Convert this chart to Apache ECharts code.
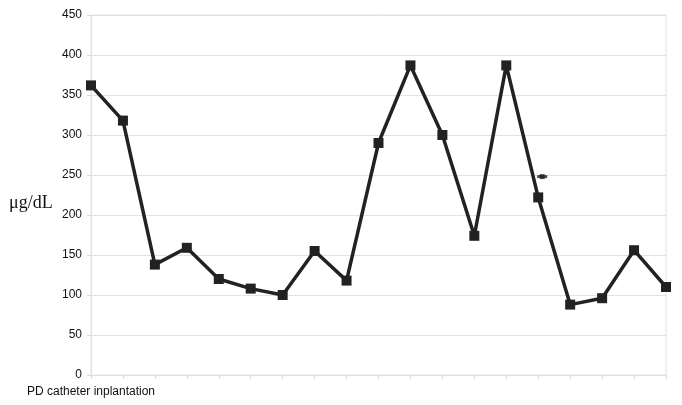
<!DOCTYPE html>
<html>
<head>
<meta charset="utf-8">
<script src="https://cdn.jsdelivr.net/npm/echarts@6/dist/echarts.min.js"></script>
<style>
html, body { margin: 0; padding: 0; background: #fff; }
#chart { width: 682px; height: 405px; }
</style>
</head>
<body>
<div id="chart"></div>
<script>
// data
const categories = ['PD catheter inplantation', '', '', '', '', '', '', '', '', '', '', '', '', '', '', '', '', '', ''];
const values = [362, 318, 138, 159, 120, 108, 100, 155, 118, 290, 387, 300, 174, 387, 222, 88, 96, 156, 110];
const extraMark = [[14, 248]];
const yTicks = { min: 0, max: 450, interval: 50 };

const myChart = echarts.init(document.getElementById('chart'));

const option = {
    backgroundColor: '#fff',
    animation: false,
    grid: {
        left: 91,
        right: 16,
        top: 15,
        bottom: 30,
        show: true,
        borderColor: '#e2e2e2',
        borderWidth: 1
    },
    graphic: [{
        type: 'text',
        left: 9,
        top: 194,
        style: {
            text: 'μg/dL',
            font: '18px "Liberation Serif", "DejaVu Serif", serif',
            fill: '#111'
        }
    }],
    xAxis: {
        type: 'category',
        data: categories,
        boundaryGap: false,
        axisLine: { show: true, lineStyle: { color: '#e2e2e2' } },
        axisTick: { show: true, length: 4, interval: 0, lineStyle: { color: '#d8d8d8' } },
        axisLabel: {
            interval: 0,
            margin: 11,
            color: '#111',
            fontSize: 12,
            fontFamily: '"Liberation Sans", Arial, sans-serif'
        },
        splitLine: { show: false }
    },
    yAxis: {
        type: 'value',
        min: yTicks.min,
        max: yTicks.max,
        interval: yTicks.interval,
        axisLine: { show: true, lineStyle: { color: '#e2e2e2' } },
        axisTick: { show: true, length: 4, lineStyle: { color: '#d8d8d8' } },
        axisLabel: {
            margin: 9,
            color: '#111',
            fontSize: 12,
            fontFamily: '"Liberation Sans", Arial, sans-serif'
        },
        splitLine: { show: true, lineStyle: { color: '#e2e2e2', width: 1 } }
    },
    series: [
        {
            type: 'line',
            data: values,
            symbol: 'rect',
            symbolSize: 10,
            lineStyle: { color: '#222', width: 3.5 },
            itemStyle: { color: '#222' }
        },
        {
            type: 'scatter',
            data: extraMark,
            symbol: 'rect',
            symbolSize: [10, 3],
            symbolOffset: [4, 0],
            itemStyle: { color: '#222' }
        },
        {
            type: 'scatter',
            data: extraMark,
            symbol: 'rect',
            symbolSize: [5, 5],
            symbolOffset: [4, 0],
            itemStyle: { color: '#222' }
        }
    ]
};

myChart.setOption(option);
</script>
</body>
</html>
